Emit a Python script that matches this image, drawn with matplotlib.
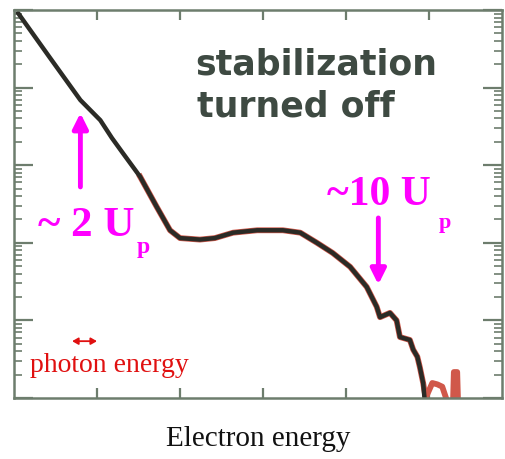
import matplotlib
matplotlib.use("Agg")
import matplotlib.pyplot as plt
from matplotlib.ticker import LogLocator, NullFormatter, FixedLocator

# Electron energy (in units of the axis tick spacing) and counts (log scale)
energy_black = [0.05, 0.43, 0.80, 1.04, 1.18, 1.31, 1.52, 1.72, 1.88, 2.00,
                2.24, 2.42, 2.64, 2.93, 3.24, 3.45, 3.65, 3.84, 4.05, 4.25,
                4.37, 4.41, 4.53, 4.61, 4.65, 4.77, 4.81, 4.86, 4.89, 4.93, 4.95]
counts_black = [91000, 24500, 6900, 3800, 2240, 1440, 710, 290, 145, 115,
                110, 115, 135, 145, 145, 135, 100, 74, 49, 27,
                15, 11, 12.5, 10, 6.1, 5.6, 4.2, 3.4, 2.5, 1.56, 0.9]

energy_red = [1.52, 1.72, 1.88, 2.00, 2.24, 2.42, 2.64, 2.93, 3.24, 3.45,
              3.65, 3.84, 4.05, 4.25, 4.37, 4.41, 4.53, 4.61, 4.65, 4.77,
              4.81, 4.86, 4.89, 4.93, 4.96, 5.04, 5.10, 5.16, 5.22, 5.29,
              5.30, 5.34, 5.35]
counts_red = [710, 290, 145, 115, 110, 115, 135, 145, 145, 135,
              100, 74, 49, 27, 15, 11, 12.5, 10, 6.1, 5.6,
              4.2, 3.4, 2.5, 1.56, 1.0, 1.56, 1.5, 1.4, 0.9, 0.9,
              2.16, 2.16, 0.9]

x_ticks = [1, 2, 3, 4, 5]

fig = plt.figure(figsize=(5.05, 4.59), dpi=100)
ax = fig.add_axes([14/505, 1 - 398/459, (502-14)/505, (398-10)/459])

ax.plot(energy_red, counts_red, color="#d0584a", lw=4.2, solid_joinstyle="round")
ax.plot(energy_black, counts_black, color="#2b2b26", lw=3.2, solid_joinstyle="round")

ax.set_yscale("log")
ax.set_xlim(0, 5.88)
ax.set_ylim(1, 1e5)

spine_c = "#6d7d6d"
for s in ax.spines.values():
    s.set_color(spine_c)
    s.set_linewidth(1.8)

ax.xaxis.set_major_locator(FixedLocator(x_ticks))
ax.yaxis.set_major_locator(LogLocator(base=10, numticks=10))
ax.yaxis.set_minor_locator(LogLocator(base=10, subs=range(2, 10), numticks=50))
ax.tick_params(axis="both", which="both", direction="in", colors=spine_c,
               labelbottom=False, labelleft=False, top=True, right=True)
ax.tick_params(axis="y", which="major", length=14, width=1.6)
ax.tick_params(axis="y", which="minor", length=6, width=1.2)
ax.tick_params(axis="x", which="major", length=7, width=1.6)
ax.yaxis.set_minor_formatter(NullFormatter())

ax.set_xlabel("Electron energy", family="Liberation Serif", fontsize=21,
              color="#111111", labelpad=20)

# Panel label
lab_c = "#3e4a42"
ax.text(0.371, 0.8325, "stabilization", transform=ax.transAxes,
        family="DejaVu Sans", fontsize=25, fontweight="bold",
        color=lab_c, ha="left", va="baseline")
ax.text(0.375, 0.7268, "turned off", transform=ax.transAxes,
        family="DejaVu Sans", fontsize=25, fontweight="bold",
        color=lab_c, ha="left", va="baseline")

mag = "#ff00ff"
# ~2 Up annotation
ax.annotate("", xy=(0.80, 4700), xytext=(0.80, 525),
            arrowprops=dict(arrowstyle="-|>,head_length=0.9,head_width=0.45",
                            color=mag, lw=3.5, shrinkA=0, shrinkB=0))
ax.text(0.29, 165, "~ 2 U", family="Liberation Serif", fontsize=31,
        fontweight="bold", color=mag, ha="left", va="center")
ax.text(1.48, 86, "p", family="Liberation Serif", fontsize=17,
        fontweight="bold", color=mag, ha="left", va="center")

# ~10 Up annotation
ax.annotate("", xy=(4.39, 29), xytext=(4.39, 209),
            arrowprops=dict(arrowstyle="-|>,head_length=0.9,head_width=0.45",
                            color=mag, lw=3.5, shrinkA=0, shrinkB=0))
ax.text(3.77, 415, "~10 U", family="Liberation Serif", fontsize=30,
        fontweight="bold", color=mag, ha="left", va="center")
ax.text(5.12, 180, "p", family="Liberation Serif", fontsize=16,
        fontweight="bold", color=mag, ha="left", va="center")

# photon energy
ax.annotate("", xy=(0.70, 5.4), xytext=(1.0, 5.4),
            arrowprops=dict(arrowstyle="<|-|>,head_length=0.35,head_width=0.2",
                            color="#e01010", lw=1.3, shrinkA=0, shrinkB=0))
ax.text(0.19, 2.6, "photon energy", family="Liberation Serif", fontsize=20,
        color="#e01010", ha="left", va="center")

fig.savefig("out.png", dpi=100)
